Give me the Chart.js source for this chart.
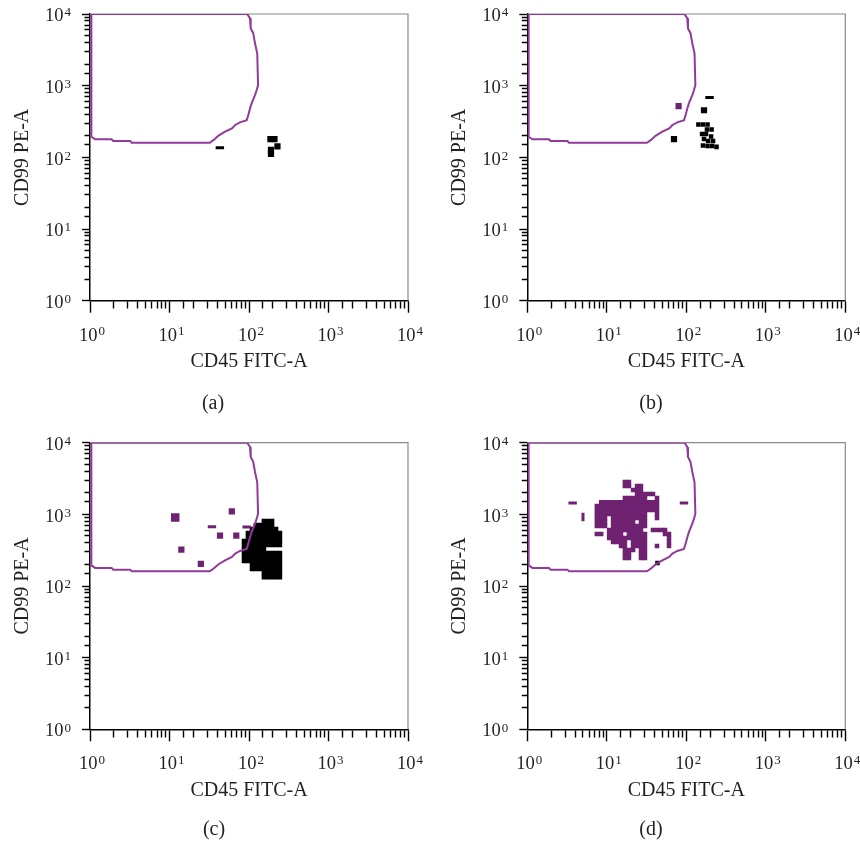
<!DOCTYPE html>
<html><head><meta charset="utf-8">
<script src="https://cdn.jsdelivr.net/npm/chart.js@4.4.1/dist/chart.umd.min.js"></script>
<style>
html,body{margin:0;padding:0;background:#fff;}
body{width:860px;height:843px;position:relative;overflow:hidden;font-family:"Liberation Serif",serif;}
.layer{position:absolute;left:0;top:0;width:860px;height:843px;}
.cap{position:absolute;font-size:20px;color:#231f20;transform:translate(-50%,-50%);white-space:nowrap;font-family:"Liberation Serif",serif;}
</style></head><body>
<div class="layer"><canvas id="ca"></canvas></div>
<div class="layer"><canvas id="cb"></canvas></div>
<div class="layer"><canvas id="cc"></canvas></div>
<div class="layer"><canvas id="cd"></canvas></div>
<div class="cap" style="left:213px;top:402px">(a)</div>
<div class="cap" style="left:651px;top:402px">(b)</div>
<div class="cap" style="left:214px;top:828px">(c)</div>
<div class="cap" style="left:651px;top:828px">(d)</div>
<script>
// ---- tick labels: 10 with superscript exponent ----
const tickValues = [1, 10, 100, 1000, 10000];
const tickBase = '10';
const tickExponents = ['0', '1', '2', '3', '4'];
const xTitle = 'CD45 FITC-A';
const yTitle = 'CD99 PE-A';

// ---- gate polygon (same in all panels) ----
const gateX = [1.04, 95, 103, 105, 113, 119, 127, 130, 125, 119, 108, 103, 98, 93.5, 77, 67, 61, 50, 41, 36, 32, 3.35, 3.2, 1.96, 1.87, 1.16, 1.04, 1.04];
const gateY = [10000, 10000, 8700, 6300, 5400, 3900, 2800, 1020, 870, 740, 570, 480, 390, 330, 308, 283, 254, 228, 200, 175, 160, 160, 169, 169, 179, 179, 194, 10000];

// ---- panel (a) ----
const aBlackDotsX = [186, 209, 189, 189, 228];
const aBlackDotsY = [179, 179, 127, 112, 142];
const aBlackDashX = [43];
const aBlackDashY = [136];

// ---- panel (b) ----
const bBlackCellsX = [142, 162, 185, 182, 208, 158, 177, 205, 167, 188, 217, 162, 185, 211, 240];
const bBlackCellsY = [287, 287, 287, 245, 245, 212, 212, 196, 180, 169, 169, 146, 144, 144, 140];
const bBlackDotsX = [167, 70];
const bBlackDotsY = [454, 179];
const bBlackDashX = [196];
const bBlackDashY = [684];
const bPurpleDotsX = [80];
const bPurpleDotsY = [517];

// ---- panel (c) ----
const cPurpleDotsX = [60.8, 43.2, 69.2, 14.1, 24.8];
const cPurpleDotsY = [1101, 506, 506, 321, 204];
const cPurpleBigX = [11.8];
const cPurpleBigY = [902];
const cPurpleDashX = [34.2, 93.5];
const cPurpleDashY = [669, 665];
const cBlackRows = [
  [806, [154, 173, 195]],
  [709, [122, 137, 154, 173, 195]],
  [624, [109, 122, 137, 154, 173, 195, 219]],
  [549, [97, 109, 122, 137, 154, 173, 195, 219, 245]],
  [482, [97, 109, 122, 137, 154, 173, 195, 219, 245]],
  [424, [86.5, 97, 109, 122, 137, 154, 173, 195, 219, 245]],
  [373, [86.5, 97, 109, 122, 137, 154, 173, 195, 219, 245]],
  [328, [86.5, 97, 109, 122, 137, 154]],
  [289, [86.5, 97, 109, 122, 137, 154, 173, 195, 219, 245]],
  [254, [86.5, 97, 109, 122, 137, 154, 173, 195, 219, 245]],
  [223, [86.5, 97, 109, 122, 137, 154, 173, 195, 219, 245]],
  [196, [109, 122, 137, 154, 173, 195, 219, 245]],
  [173, [109, 122, 137, 154, 173, 195, 219, 245]],
  [152, [154, 173, 195, 219, 245]],
  [133, [154, 173, 195, 219, 245]]
];

// ---- panel (d) ----
const dPurpleRows = [
  [2820, [16.9, 19.0]],
  [2480, [16.9, 19.0, 24.0, 26.9]],
  [2180, [21.4, 24.0, 26.9]],
  [1920, [24.0, 26.9, 30.2, 34.0, 38.1]],
  [1690, [16.9, 19.0, 21.4, 24.0, 26.9, 30.2, 42.8]],
  [1480, [8.5, 9.5, 10.7, 12.0, 13.4, 15.1, 16.9, 19.0, 21.4, 24.0, 26.9, 30.2, 34.0, 38.1, 42.8]],
  [1305, [7.5, 8.5, 9.5, 10.7, 12.0, 13.4, 15.1, 16.9, 19.0, 21.4, 24.0, 26.9, 30.2, 34.0, 38.1, 42.8]],
  [1150, [7.5, 8.5, 9.5, 10.7, 12.0, 13.4, 15.1, 16.9, 19.0, 21.4, 24.0, 26.9, 30.2, 34.0, 38.1, 42.8]],
  [1010, [7.5, 8.5, 9.5, 10.7, 12.0, 13.4, 15.1, 16.9, 19.0, 21.4, 24.0, 26.9, 30.2, 42.8]],
  [888, [7.5, 8.5, 9.5, 12.0, 13.4, 15.1, 16.9, 19.0, 21.4, 24.0, 26.9, 30.2, 42.8]],
  [780, [7.5, 8.5, 9.5, 12.0, 13.4, 15.1, 16.9, 19.0, 21.4, 26.9, 30.2]],
  [686, [7.5, 8.5, 9.5, 12.0, 13.4, 15.1, 16.9, 19.0, 21.4, 24.0, 26.9, 30.2]],
  [604, [10.7, 12.0, 13.4, 15.1, 16.9, 19.0, 21.4, 24.0, 26.9, 38.1, 42.8, 48.1, 54.0]],
  [531, [7.5, 8.5, 10.7, 12.0, 13.4, 15.1, 19.0, 21.4, 24.0, 26.9, 30.2, 54.0, 60.6]],
  [467, [10.7, 12.0, 13.4, 15.1, 16.9, 19.0, 21.4, 24.0, 26.9, 30.2, 60.6]],
  [411, [12.0, 13.4, 15.1, 16.9, 21.4, 24.0, 26.9, 30.2, 60.6]],
  [361, [15.1, 16.9, 21.4, 24.0, 26.9, 30.2, 42.8, 60.6]],
  [318, [16.9, 19.0, 21.4, 26.9, 30.2]],
  [279, [16.9, 19.0, 26.9, 30.2]],
  [246, [16.9, 19.0, 26.9, 30.2]]
];
const dPurpleDashX = [3.72, 93.5];
const dPurpleDashY = [1438, 1438];
const dPurpleVDashX = [5.02];
const dPurpleVDashY = [917];
const dBlackCellsX = [43.4];
const dBlackCellsY = [209];

// ---- colours / fonts ----
const GATE = '#93399a';
const PURPLE = '#6f2271';
const BLACK = '#000000';
const TEXT = '#231f20';
const FONT = 'Liberation Serif';
const TICK_SIZE = 18.5;
const EXP_SIZE = 13;

function pts(xs, ys) { return xs.map((x, i) => ({x: x, y: ys[i]})); }
function rowPts(rows) { const o = []; rows.forEach(r => r[1].forEach(x => o.push({x: x, y: r[0]}))); return o; }

function gateSet() {
  return {data: pts(gateX, gateY), showLine: true, borderColor: GATE, borderWidth: 2, pointRadius: 0, fill: false, tension: 0, order: 0};
}
function cells(data, color) { return {data, pointStyle: 'rect', pointRadius: 3.2, pointBackgroundColor: color, pointBorderWidth: 0, showLine: false, order: 1}; }
function dots(data, color, r) { return {data, pointStyle: 'rect', pointRadius: r || 4.4, pointBackgroundColor: color, pointBorderWidth: 0, showLine: false, order: 1}; }
function dash(data, color, rot) { return {data, pointStyle: 'line', pointRadius: 4.2, pointBorderColor: color, pointBorderWidth: 3, pointRotation: rot || 0, showLine: false, order: 1}; }

function decadeIndex(v) { return tickValues.findIndex(t => Math.abs(t - v) < 1e-6 * t); }
function tickLabel(v) { return decadeIndex(v) >= 0 ? tickBase : ''; }

const frame = {
  id: 'frame',
  beforeDatasetsDraw(chart) {
    const {ctx, chartArea: a} = chart;
    ctx.save();
    ctx.strokeStyle = '#8a8a8a'; ctx.lineWidth = 1.2;
    ctx.beginPath(); ctx.moveTo(a.left, a.top); ctx.lineTo(a.right, a.top); ctx.lineTo(a.right, a.bottom); ctx.stroke();
    ctx.restore();
  }
};

// draws the exponent of each decade label, next to the "10" that the scale draws
const exponents = {
  id: 'exponents',
  afterDraw(chart) {
    const ctx = chart.ctx;
    ctx.save();
    ctx.fillStyle = TEXT;
    ctx.textAlign = 'left';
    ctx.textBaseline = 'alphabetic';
    ['x', 'y'].forEach(id => {
      const s = chart.scales[id];
      const t = s.options.ticks;
      const tl = s.options.grid.tickLength;
      ctx.font = TICK_SIZE + 'px "' + FONT + '"';
      const w = ctx.measureText(tickBase).width;
      ctx.font = EXP_SIZE + 'px "' + FONT + '"';
      s.ticks.forEach(tk => {
        const i = decadeIndex(tk.value);
        if (i < 0) return;
        const p = s.getPixelForValue(tk.value) + t.labelOffset;
        let x, y;
        if (id === 'x') {
          x = p + w / 2 + 1;
          y = s.top + tl + t.padding + TICK_SIZE * 1.2 / 2 - 0.5;
        } else {
          x = s.right - tl - t.padding + 1;
          y = p;
        }
        ctx.fillText(tickExponents[i], x, y);
      });
    });
    ctx.restore();
  }
};

function makeChart(id, pad, datasets) {
  return new Chart(document.getElementById(id), {
    type: 'scatter',
    data: {datasets},
    options: {
      responsive: true, maintainAspectRatio: false, animation: false, events: [],
      layout: {padding: pad},
      plugins: {legend: {display: false}, tooltip: {enabled: false}},
      scales: {
        x: {
          type: 'logarithmic', position: 'bottom', min: 1, max: 10000,
          afterFit: s => { s.height = 74.3; s.paddingLeft = 0; s.paddingRight = 0; },
          border: {display: true, color: '#000', width: 1.5},
          grid: {display: true, drawOnChartArea: false, drawTicks: true, tickLength: 12, tickColor: '#000', tickWidth: 1.4,
                 tickBorderDash: c => (c.tick && decadeIndex(c.tick.value) >= 0) ? [] : [7, 100]},
          ticks: {autoSkip: false, maxRotation: 0, minRotation: 0, padding: 12, labelOffset: -1.7, color: TEXT,
                  font: {family: FONT, size: TICK_SIZE}, callback: tickLabel},
          title: {display: true, text: xTitle, color: TEXT, font: {family: FONT, size: 20}, padding: {top: 0, bottom: 1}}
        },
        y: {
          type: 'logarithmic', position: 'left', min: 1, max: 10000,
          afterFit: s => { s.width = 90; s.paddingTop = 0; s.paddingBottom = 0; },
          border: {display: true, color: '#000', width: 1.5},
          grid: {display: true, drawOnChartArea: false, drawTicks: true, tickLength: 8, tickColor: '#000', tickWidth: 1.4,
                 tickBorderDash: c => (c.tick && decadeIndex(c.tick.value) >= 0) ? [] : [0, 2.5, 10]},
          ticks: {autoSkip: false, padding: 18.5, labelOffset: 2.3, color: TEXT,
                  font: {family: FONT, size: TICK_SIZE}, callback: tickLabel},
          title: {display: true, text: yTitle, color: TEXT, font: {family: FONT, size: 20}, padding: {top: 10.5, bottom: 0}}
        }
      }
    },
    plugins: [frame, exponents]
  });
}

makeChart('ca', {left: 0, top: 14, right: 452, bottom: 468}, [
  gateSet(),
  dots(pts(aBlackDotsX, aBlackDotsY), BLACK),
  dash(pts(aBlackDashX, aBlackDashY), BLACK)
]);
makeChart('cb', {left: 437.3, top: 14, right: 14.7, bottom: 468}, [
  gateSet(),
  cells(pts(bBlackCellsX, bBlackCellsY), BLACK),
  dots(pts(bBlackDotsX, bBlackDotsY), BLACK),
  dash(pts(bBlackDashX, bBlackDashY), BLACK),
  dots(pts(bPurpleDotsX, bPurpleDotsY), PURPLE)
]);
makeChart('cc', {left: 0, top: 442.7, right: 452, bottom: 39.4}, [
  gateSet(),
  dots(pts(cPurpleDotsX, cPurpleDotsY), PURPLE),
  dots(pts(cPurpleBigX, cPurpleBigY), PURPLE, 6),
  dash(pts(cPurpleDashX, cPurpleDashY), PURPLE),
  cells(rowPts(cBlackRows), BLACK)
]);
makeChart('cd', {left: 437.3, top: 442.7, right: 14.7, bottom: 39.4}, [
  gateSet(),
  cells(pts(dBlackCellsX, dBlackCellsY), BLACK),
  cells(rowPts(dPurpleRows), PURPLE),
  dash(pts(dPurpleDashX, dPurpleDashY), PURPLE),
  dash(pts(dPurpleVDashX, dPurpleVDashY), PURPLE, 90)
]);
</script>
</body></html>
